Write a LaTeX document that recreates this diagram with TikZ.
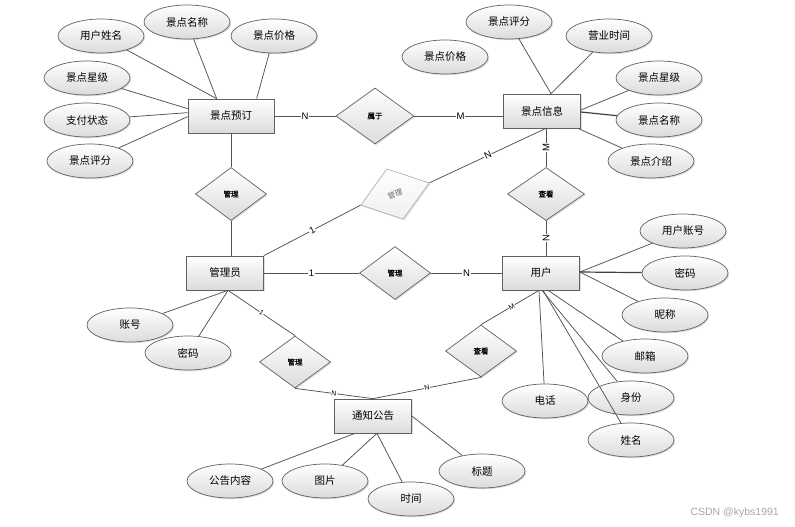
\documentclass[tikz,border=0pt]{standalone}
\usepackage{fontspec}
\setmainfont{Liberation Sans}
\newfontfamily\cjk{Noto Sans CJK SC}
\newfontfamily\cjkb[FakeBold=1.2]{Noto Sans CJK SC}
\usetikzlibrary{shapes.geometric,shadows,calc}
\begin{document}
\begin{tikzpicture}[x=1pt,y=-1pt,
  line/.style={draw=black!68, line width=0.75pt},
  thick line/.style={draw=black!75, line width=1.2pt},
  shade/.style={top color=white, bottom color=black!14, drop shadow={shadow xshift=1.2pt, shadow yshift=-1.2pt, opacity=0.25}},
  attr/.style={ellipse, draw=black!62, line width=0.7pt, shade, minimum width=86pt, minimum height=34pt, inner sep=0pt, font=\cjk\fontsize{10.5}{12}\selectfont},
  ent/.style={rectangle, draw=black!62, line width=0.7pt, shade, minimum width=77pt, minimum height=34pt, inner sep=0pt, font=\cjk\fontsize{10.5}{12}\selectfont},
  rel/.style={diamond, draw=black!62, line width=0.7pt, shade, minimum width=71pt, minimum height=53pt, inner sep=0pt, font=\cjkb\fontsize{7.5}{9}\selectfont},
  card/.style={fill=white, inner sep=0.6pt, font=\fontsize{9.5}{10}\selectfont},
  smallcard/.style={fill=white, inner sep=0.4pt, font=\fontsize{7}{8}\selectfont}
]
\useasboundingbox (0,0) rectangle (795,527);
\fill[white] (0,0) rectangle (795,527);

% entities
\node[ent, minimum width=86pt] (r1) at (231,116) {景点预订};
\node[ent] (r2) at (542,111) {景点信息};
\node[ent] (r3) at (225,273) {管理员};
\node[ent] (r4) at (541,273) {用户};
\node[ent] (r5) at (373,416) {通知公告};

% relations
\node[rel, minimum width=78pt, minimum height=56pt] (d1) at (375,116) {属于};
\node[rel] (d2) at (231,194) {管理};
\node[rel, draw=black!30, text=black!60, top color=white, bottom color=black!6, rotate=18, minimum width=72pt, font=\cjk\fontsize{7.5}{9}\selectfont] (dg) at (395,194) {管理};
\node[rel, minimum width=77pt] (dc1) at (546,194) {查看};
\node[rel] (d4) at (395,273) {管理};
\node[rel, minimum height=52pt] (d5) at (295,362) {管理};
\node[rel, minimum height=52pt] (d6) at (481,351) {查看};

% attributes of 景点预订
\node[attr] (a1) at (101,36) {用户姓名};
\node[attr] (a2) at (187,22) {景点名称};
\node[attr] (a3) at (274,36) {景点价格};
\node[attr] (a4) at (87,78) {景点星级};
\node[attr] (a5) at (87,120) {支付状态};
\node[attr] (a6) at (90,161) {景点评分};

% attributes of 景点信息
\node[attr] (b1) at (509,22) {景点评分};
\node[attr] (b2) at (609,36) {营业时间};
\node[attr] (b0) at (445,57) {景点价格};
\node[attr] (b3) at (659,78) {景点星级};
\node[attr] (b4) at (659,120) {景点名称};
\node[attr] (b5) at (651,161) {景点介绍};

% attributes of 管理员
\node[attr] (c1) at (130,325) {账号};
\node[attr] (c2) at (188,353) {密码};

% attributes of 用户
\node[attr] (u1) at (683,231) {用户账号};
\node[attr] (u2) at (685,273) {密码};
\node[attr] (u3) at (665,315) {昵称};
\node[attr] (u4) at (645,356) {邮箱};
\node[attr] (u5) at (545,401) {电话};
\node[attr] (u6) at (631,398) {身份};
\node[attr] (u7) at (631,440) {姓名};

% attributes of 通知公告
\node[attr] (n1) at (230,481) {公告内容};
\node[attr] (n2) at (325,481) {图片};
\node[attr] (n3) at (411,499) {时间};
\node[attr] (n4) at (482,471) {标题};

% attachment points
\coordinate (r1t1) at ($(r1.north west)+(29,0)$);
\coordinate (r1t2) at ($(r1.north west)+(69,0)$);
\coordinate (r1l1) at ($(r1.north west)+(0,10)$);
\coordinate (r1l2) at ($(r1.north west)+(0,14)$);
\coordinate (r1l3) at ($(r1.north west)+(0,18)$);
\coordinate (r2t) at ($(r2.north)+(9,0)$);
\coordinate (r2r1) at ($(r2.east)+(0,-1)$);
\coordinate (r2r2) at ($(r2.east)+(0,1)$);
\coordinate (r2br) at ($(r2.south east)+(-3,0)$);
\coordinate (r2b) at ($(r2.south)+(4,0)$);
\coordinate (r3b) at ($(r3.south)+(3,0)$);
\coordinate (r4r) at ($(r4.east)+(0,-1)$);
\coordinate (r4b1) at ($(r4.south)+(7,0)$);
\coordinate (r4b2) at ($(r4.south)+(-2,0)$);
\coordinate (r4b3) at ($(r4.south)+(1,0)$);
\coordinate (r4b4) at ($(r4.south)+(2,0)$);
\coordinate (r5b1) at ($(r5.south)+(-18,0)$);
\coordinate (r5b2) at ($(r5.south)+(4,0)$);
\coordinate (r5r) at (r5.east);

% attribute connectors
\draw[line] (a1) -- (r1t1);
\draw[line] (a2) -- (r1t1);
\draw[line] (a3) -- (r1t2);
\draw[line] (a4) -- (r1l1);
\draw[line] (a5) -- (r1l2);
\draw[line] (a6) -- (r1l3);

\draw[line] (b1) -- (r2t);
\draw[line] (b2) -- (r2t);
\draw[line] (b3) -- (r2r1);
\draw[thick line] (b4) -- (r2r2);
\draw[line] (b5) -- (r2br);

\draw[line] (c1) -- (r3b);
\draw[line] (c2) -- (r3b);

\draw[line] (u1) -- (r4r);
\draw[thick line] (u2) -- (r4r);
\draw[line] (u3) -- (r4r);
\draw[line] (u4) -- (r4b1);
\draw[line] (u5) -- (r4b2);
\draw[line] (u6) -- (r4b3);
\draw[line] (u7) -- (r4b4);

\draw[line] (n1) -- (r5b1);
\draw[line] (n2) -- (r5b2);
\draw[line] (n3) -- (r5b2);
\draw[line] (n4) -- (r5r);

% relationship connectors
\draw[line] (r1.east) -- node[card]{N} (d1.west);
\draw[line] (d1.east) -- node[card,pos=0.52]{M} (d1.east -| r2.west);
\draw[line] (r2b) -- node[card,rotate=90]{M} (dc1.north);
\draw[line] (dc1.south) -- node[card,rotate=90]{N} (dc1.south |- r4.north);
\draw[line] (r2b) -- node[card,sloped]{N} (dg.east);
\draw[line] (dg.west) -- node[card,sloped]{1} (r3.north east);
\draw[line] (r1.south) -- (d2.north);
\draw[line] (d2.south) -- (d2.south |- r3.north);
\draw[line] (r3.east) -- node[card]{1} (d4.west);
\draw[line] (d4.east) -- node[card]{N} (r4.west);
\draw[line] (r3b) -- node[smallcard,sloped]{1} (d5.north);
\draw[line] (d5.south) -- node[smallcard,sloped]{N} (r5.north);
\draw[line] (r5.north) -- node[smallcard,sloped]{N} (d6.south);
\draw[line] (d6.north) -- node[smallcard,sloped,pos=0.53]{M} (r4b2);

% watermark
\node[text=black!35, font=\fontsize{10.5}{12}\selectfont, anchor=east, inner sep=0pt] (wm) at (779,513) {CSDN @kybs1991};
\end{tikzpicture}
\end{document}
